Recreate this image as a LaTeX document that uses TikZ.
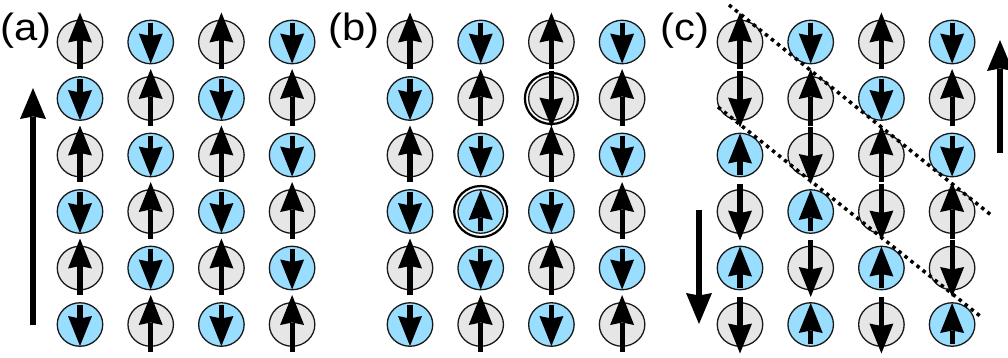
\documentclass[tikz,border=0pt]{standalone}
\usepackage{fontspec}
\setmainfont{Liberation Sans}
\usetikzlibrary{arrows.meta,shapes.geometric}
\definecolor{cg}{RGB}{230,230,230}
\definecolor{cb}{RGB}{153,221,255}
\definecolor{edgecol}{RGB}{25,25,25}
\def\stgu{-27}\def\engu{29.5}
\def\stgd{28}\def\engd{-29}
\def\stbu{-19.5}\def\enbu{21.5}
\def\stbd{19.5}\def\enbd{-21.5}
\newcommand\spinpanel[3]{%
  \foreach \row [count=\j from 0] in {#3} {%
    \foreach \f/\d [count=\i from 0] in \row {%
      \node[cell,fill=c\f] (#1-\j-\i) at ({#2+70.7*\i},{42+56.5*\j}) {};
    }%
  }%
  \foreach \row [count=\j from 0] in {#3} {%
    \foreach \f/\d [count=\i from 0] in \row {%
      \edef\sa{\csname st\f\d\endcsname}%
      \edef\sb{\csname en\f\d\endcsname}%
      \draw[spin] ([yshift=\sa pt]#1-\j-\i.center) -- ([yshift=\sb pt]#1-\j-\i.center);
    }%
  }%
}
\begin{document}
\begin{tikzpicture}[x=1pt,y=-1pt,
  cell/.style={ellipse,draw=edgecol,line width=1.3pt,minimum width=45.5pt,minimum height=43.5pt,inner sep=0pt},
  ring/.style={ellipse,draw=black,line width=2.2pt,minimum width=53pt,minimum height=51pt,inner sep=0pt},
  spin/.style={line width=5.2pt,-{Stealth[length=30pt,width=24pt,inset=2.5pt,line width=0pt]}},
  bigarr/.style={line width=5.5pt,-{Stealth[length=31pt,width=26pt,inset=2.5pt,line width=0pt]}},
  dots/.style={line width=3.5pt,dash pattern=on 3.5pt off 4.2pt},
  lab/.style={anchor=base west,inner sep=0pt,font=\fontsize{38}{38}\selectfont}]
\useasboundingbox (0,0) rectangle (1008,357);
% panel (a)
\spinpanel{a}{80}{{g/u,b/d,g/u,b/d},{b/d,g/u,b/d,g/u},{g/u,b/d,g/u,b/d},{b/d,g/u,b/d,g/u},{g/u,b/d,g/u,b/d},{b/d,g/u,b/d,g/u}}
% panel (b)
\spinpanel{b}{410}{{g/u,b/d,g/u,b/d},{b/d,g/u,g/d,g/u},{g/u,b/d,g/u,b/d},{b/d,b/u,b/d,g/u},{g/u,b/d,g/u,b/d},{b/d,g/u,b/d,g/u}}
\node[ring] (ringA) at (b-1-2) {};
\node[ring] (ringB) at (b-3-1) {};
% panel (c)
\spinpanel{c}{740}{{g/u,b/d,g/u,b/d},{g/d,g/u,b/d,g/u},{b/u,g/d,g/u,b/d},{g/d,b/u,g/d,g/u},{b/u,g/d,b/u,g/d},{g/d,b/u,g/d,b/u}}
% dotted lines
\coordinate (d1s) at (729,5);
\coordinate (d1e) at (991,215);
\coordinate (d2s) at (718,107);
\coordinate (d2e) at (980,316);
\draw[dots] (d1s) -- (d1e);
\draw[dots] (d2s) -- (d2e);
% big arrows
\coordinate (aB) at (33,325);
\coordinate (aT) at (33,88);
\draw[bigarr] (aB) -- (aT);
\coordinate (cUB) at (1000,153);
\coordinate (cUT) at (1000,40);
\draw[bigarr] (cUB) -- (cUT);
\coordinate (cDT) at (699,210);
\coordinate (cDB) at (699,324);
\draw[bigarr] (cDT) -- (cDB);
% labels
\node[lab] (la) at (0.5,40.5) {\scalebox{1.1}[1]{(a)}};
\node[lab] (lb) at (328.5,40.5) {\scalebox{1.1}[1]{(b)}};
\node[lab] (lc) at (660.5,40.5) {\scalebox{1.1}[1]{(c)}};
\end{tikzpicture}
\end{document}
